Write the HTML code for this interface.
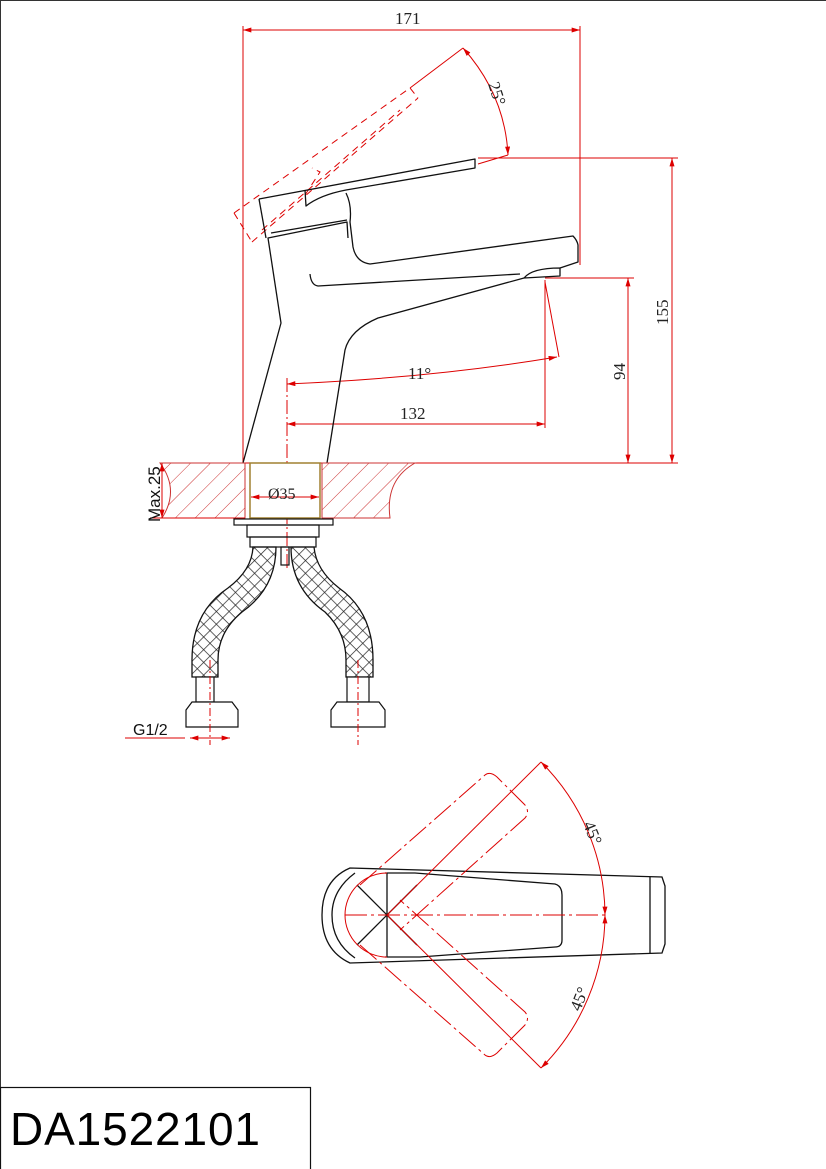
<!DOCTYPE html>
<html><head><meta charset="utf-8"><style>
html,body{margin:0;padding:0;background:#fff;}
svg{display:block;}
text{font-family:"Liberation Serif",serif;}
</style></head><body>
<svg width="826" height="1169" viewBox="0 0 826 1169" xmlns="http://www.w3.org/2000/svg">
<defs>
<pattern id="hatch" width="14" height="14" patternUnits="userSpaceOnUse" patternTransform="rotate(45)">
<line x1="0" y1="0" x2="0" y2="14" stroke="#c33" stroke-width="1"/>
</pattern>
<pattern id="cross" width="9" height="9" patternUnits="userSpaceOnUse" patternTransform="rotate(45)">
<line x1="0" y1="0" x2="0" y2="9" stroke="#222" stroke-width="1.4"/>
<line x1="0" y1="0" x2="9" y2="0" stroke="#222" stroke-width="1.4"/>
</pattern>
<marker id="ar" viewBox="0 0 10 6" refX="10" refY="3" markerWidth="12" markerHeight="5" orient="auto-start-reverse" markerUnits="userSpaceOnUse">
<path d="M0,0 L10,3 L0,6z" fill="#d00"/>
</marker>
</defs>
<rect x="0" y="0" width="826" height="1169" fill="#fff"/>
<line x1="0.5" y1="0" x2="0.5" y2="1169" stroke="#333" stroke-width="1"/>
<line x1="0" y1="0.5" x2="826" y2="0.5" stroke="#333" stroke-width="1"/>
<rect x="0.5" y="1087.5" width="310" height="85" fill="none" stroke="#111" stroke-width="1.2"/>
<text x="10" y="1145" style="font-family:'Liberation Sans',sans-serif" font-size="46" textLength="250" fill="#000">DA1522101</text>

<g stroke="#d00" stroke-width="1" fill="none">
<line x1="243" y1="30" x2="580" y2="30" marker-start="url(#ar)" marker-end="url(#ar)"/>
<line x1="243" y1="26" x2="243" y2="463"/>
<line x1="580" y1="26" x2="580" y2="265"/>
<line x1="478" y1="158" x2="678" y2="158"/>
<line x1="672" y1="158" x2="672" y2="463" marker-start="url(#ar)" marker-end="url(#ar)"/>
<line x1="545" y1="278" x2="634" y2="278"/>
<line x1="628" y1="278" x2="628" y2="463" marker-start="url(#ar)" marker-end="url(#ar)"/>
<line x1="160" y1="463" x2="678" y2="463"/>
<line x1="287" y1="424" x2="545" y2="424" marker-start="url(#ar)" marker-end="url(#ar)"/>
<line x1="545" y1="280" x2="545" y2="428"/>
<line x1="545" y1="282" x2="559" y2="357"/>
<path d="M287,384 Q430,378 557,357" marker-start="url(#ar)" marker-end="url(#ar)"/>
<line x1="287" y1="378" x2="287" y2="568" stroke-dasharray="14,3,2,3"/>
<line x1="463" y1="48" x2="410" y2="88"/>
<path d="M463,48 Q505,95 508,155" marker-start="url(#ar)" marker-end="url(#ar)"/>
<line x1="478" y1="164" x2="508" y2="155"/>
<g stroke-dasharray="7,5">
<path d="M234,213 L410,88 L418,98"/>
<path d="M252,242 L418,98"/>
<path d="M262,230 L400,110"/>
<path d="M234,213 L252,242"/>
<path d="M305,195 L320,172 L312,168"/>
</g>
</g>

<g fill="#222" font-size="17">
<text x="395" y="24">171</text>
<text x="400" y="419">132</text>
<text x="408" y="379">11°</text>
<text transform="translate(668,325) rotate(-90)">155</text>
<text transform="translate(625,380) rotate(-90)">94</text>
<text transform="translate(488,84) rotate(72)">25°</text>
</g>

<g stroke="#111" stroke-width="1.3" fill="none" stroke-linejoin="round">
<path d="M243,463 L281,323 L268,238 L347,222 L348,238"/>
<path d="M259,199 L266,238"/>
<path d="M259,199 L475,159 L475,168 L346,190 Q320,195 306,206 L305,190"/>
<path d="M346,193 Q352,205 350,222 L353,247 Q356,262 370,264 L573,236 Q577,240 578,245 L578,262 L560,268"/>
<path d="M310,274 Q311,285 318,286 L520,274"/>
<path d="M524,278 L378,318 Q350,330 345,350 L327,463"/>
<path d="M524,278 Q532,268 560,268 L560,276 Z"/>
<path d="M271,233 L347,220"/>
</g>

<g>
<path d="M160,463 L245,463 L245,518 L162,518 Q180,490 160,463 Z" fill="url(#hatch)" stroke="#c33" stroke-width="1"/>
<path d="M322,463 L415,463 Q385,480 390,518 L322,518 Z" fill="url(#hatch)" stroke="#c33" stroke-width="1"/>
<rect x="250" y="463" width="70" height="55" fill="#fff" stroke="#a08030" stroke-width="1.5"/>
<line x1="251" y1="497" x2="319" y2="497" stroke="#d00" marker-start="url(#ar)" marker-end="url(#ar)"/>
<text x="268" y="499" font-size="16" fill="#222">Ø35</text>
<line x1="162" y1="463" x2="162" y2="518" stroke="#d00" marker-start="url(#ar)" marker-end="url(#ar)"/>
<line x1="150" y1="518" x2="245" y2="518" stroke="#d00"/>
<text transform="translate(160,522) rotate(-90)" font-size="17" style="font-family:'Liberation Sans',sans-serif" fill="#111">Max.25</text>
</g>
<g stroke="#111" stroke-width="1.2" fill="none">
<rect x="234" y="519" width="99" height="6"/>
<rect x="247" y="525" width="72" height="12"/>
<rect x="250" y="537" width="66" height="10"/>
<rect x="281" y="547" width="8" height="18"/>
</g>
<path d="M253,547 L276,547 Q276,588 242,612 Q218,632 218,660 L218,677 L192,677 L192,660 Q192,612 228,588 Q252,570 253,547 Z" fill="url(#cross)" stroke="#111" stroke-width="1.3"/>
<path d="M314,547 L291,547 Q291,588 325,612 Q346,632 346,660 L346,677 L373,677 L373,660 Q373,612 339,588 Q316,570 314,547 Z" fill="url(#cross)" stroke="#111" stroke-width="1.3"/>
<g stroke="#111" stroke-width="1.2" fill="#fff">
<rect x="196" y="677" width="18" height="25"/>
<rect x="347" y="677" width="22" height="25"/>
<path d="M186,710 L192,702 L232,702 L238,710 L238,727 L186,727 Z"/>
<path d="M331,710 L337,702 L379,702 L385,710 L385,727 L331,727 Z"/>
</g>
<g stroke="#d00" stroke-width="1">
<line x1="210" y1="660" x2="210" y2="745" stroke-dasharray="8,3,2,3"/>
<line x1="358" y1="660" x2="358" y2="745" stroke-dasharray="8,3,2,3"/>
<line x1="125" y1="738" x2="185" y2="738"/>
<line x1="190" y1="738" x2="230" y2="738" marker-start="url(#ar)" marker-end="url(#ar)"/>
</g>
<text x="133" y="735" font-size="16" style="font-family:'Liberation Sans',sans-serif" fill="#111">G1/2</text>

<g stroke="#111" stroke-width="1.3" fill="none">
<path d="M350,868 L662,877 L665,886 L665,944 L662,953 L350,963 Q322,950 322,915 Q322,880 350,868 Z"/>
<path d="M355,873 Q332,890 332,915 Q332,942 355,958"/>
<path d="M385,873 L415,873 L555,884 Q562,886 562,895 L562,940 Q562,947 555,947 L420,957 L385,957"/>
<line x1="387" y1="873" x2="387" y2="957"/>
<line x1="357" y1="885" x2="417" y2="945"/>
<line x1="357" y1="945" x2="417" y2="885"/>
<line x1="650" y1="877" x2="650" y2="953"/>
</g>
<g stroke="#d00" stroke-width="1" fill="none">
<path d="M387,873 A42,42 0 0 0 387,957"/>
<line x1="345" y1="915" x2="605" y2="915" stroke-dasharray="22,4,3,4"/>
<path d="M541,762 A217,217 0 0 1 605,915" marker-start="url(#ar)" marker-end="url(#ar)"/>
<path d="M605,915 A217,217 0 0 1 541,1068" marker-start="url(#ar)" marker-end="url(#ar)"/>
<line x1="387" y1="915" x2="541" y2="762"/>
<line x1="387" y1="915" x2="541" y2="1068"/>
<g stroke-dasharray="22,4,3,4">
<path d="M360,885 L485,775 Q490,771 497,777 L525,805 Q530,812 525,818 L400,930"/>
<path d="M360,945 L485,1055 Q490,1059 497,1053 L525,1025 Q530,1018 525,1012 L400,900"/>
</g>
</g>
<g fill="#222" font-size="17">
<text transform="translate(583,824) rotate(68)">45°</text>
<text transform="translate(580,1012) rotate(-68)">45°</text>
</g>
</svg>
</body></html>
